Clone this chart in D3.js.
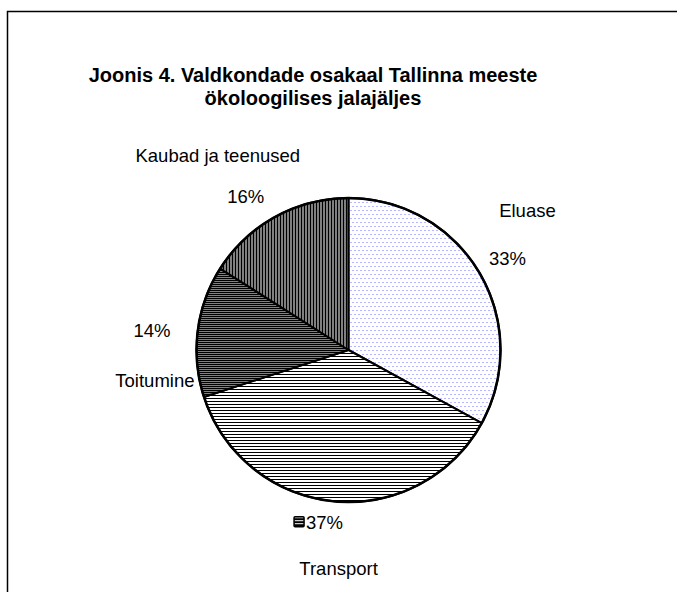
<!DOCTYPE html>
<html>
<head>
<meta charset="utf-8">
<script src="https://cdn.jsdelivr.net/npm/d3@7"></script>
<style>
  html, body { margin: 0; background: #fff; overflow: hidden; }
  svg { display: block; }
  text { font-family: "Liberation Sans", Arial, sans-serif; fill: #000; }
</style>
</head>
<body>
<script>
// data
var categories = ["Eluase", "Transport", "Toitumine", "Kaubad ja teenused"];
var shares = [33, 37, 14, 16];
var pctLabels = ["33%", "37%", "14%", "16%"];
var titleLines = ["Joonis 4. Valdkondade osakaal Tallinna meeste", "ökoloogilises jalajäljes"];

var w = 677, h = 592;
var cx = 348.5, cy = 350, r = 152;

var svg = d3.select("body").append("svg")
    .attr("width", w)
    .attr("height", h);

// fill patterns, one per slice
var defs = svg.append("defs");

var p0 = defs.append("pattern").attr("id", "pat0")
    .attr("patternUnits", "userSpaceOnUse").attr("width", 4).attr("height", 8);
p0.append("rect").attr("width", 4).attr("height", 8).attr("fill", "#fff");
p0.append("rect").attr("x", 0).attr("y", 0).attr("width", 1).attr("height", 1).attr("fill", "#6f6fff");
p0.append("rect").attr("x", 2).attr("y", 4).attr("width", 1).attr("height", 1).attr("fill", "#6f6fff");

var p1 = defs.append("pattern").attr("id", "pat1")
    .attr("patternUnits", "userSpaceOnUse").attr("width", 4).attr("height", 3);
p1.append("rect").attr("width", 4).attr("height", 3).attr("fill", "#fff");
p1.append("rect").attr("y", 0).attr("width", 4).attr("height", 1).attr("fill", "#000");

var p2 = defs.append("pattern").attr("id", "pat2")
    .attr("patternUnits", "userSpaceOnUse").attr("width", 2).attr("height", 2);
p2.append("rect").attr("width", 2).attr("height", 2).attr("fill", "#000");
p2.append("rect").attr("x", 1).attr("y", 1).attr("width", 1).attr("height", 1).attr("fill", "#fff");

var p3 = defs.append("pattern").attr("id", "pat3")
    .attr("patternUnits", "userSpaceOnUse").attr("width", 3).attr("height", 4);
p3.append("rect").attr("width", 3).attr("height", 4).attr("fill", "#fff");
p3.append("rect").attr("x", 0).attr("width", 2).attr("height", 4).attr("fill", "#000");

// legend key pattern (small horizontal bars)
var pk = defs.append("pattern").attr("id", "patKey")
    .attr("patternUnits", "userSpaceOnUse").attr("width", 4).attr("height", 3);
pk.append("rect").attr("width", 4).attr("height", 3).attr("fill", "#000");
pk.append("rect").attr("y", 1).attr("width", 4).attr("height", 1).attr("fill", "#fff");

// chart area border: only top and left edges fall inside the view
svg.append("path")
    .attr("d", "M7.5," + h + "V11.5H" + w)
    .attr("fill", "none")
    .attr("stroke", "#000")
    .attr("stroke-width", 1.5);

// title
svg.append("text")
    .attr("x", 313).attr("y", 82)
    .attr("text-anchor", "middle")
    .style("font-weight", "bold")
    .style("font-size", "20px")
    .selectAll("tspan")
    .data(titleLines)
    .enter()
    .append("tspan")
    .attr("x", 313)
    .attr("dy", function (d, i) { return i === 0 ? 0 : 23; })
    .text(function (d) { return d; });

// pie
var pie = d3.pie().sort(null).value(function (d) { return d; });
var arcs = pie(shares);
var arc = d3.arc().innerRadius(0).outerRadius(r);

var g = svg.append("g").attr("transform", "translate(" + cx + "," + cy + ")");

g.selectAll("path.slice")
    .data(arcs)
    .enter()
    .append("path")
    .attr("class", "slice")
    .attr("d", arc)
    .attr("fill", function (d, i) { return "url(#pat" + i + ")"; })
    .attr("stroke", "#000")
    .attr("stroke-width", 2)
    .attr("stroke-linejoin", "round");

g.append("circle")
    .attr("r", r)
    .attr("fill", "none")
    .attr("stroke", "#000")
    .attr("stroke-width", 2.5);

// labels: percent near the slice's mid angle, name shifted from it
var labelR = 180;
var pctShift = [[4, 0], [-7, -7], [-18, 3], [-16, 4]];
var nameShift = [[20, -48], [14, 46], [3, 50], [-28, -41]];

function labelPoint(d, i) {
    var a = (d.startAngle + d.endAngle) / 2;
    return [labelR * Math.sin(a) + pctShift[i][0], -labelR * Math.cos(a) + pctShift[i][1]];
}

var lab = g.selectAll("g.lab")
    .data(arcs)
    .enter()
    .append("g")
    .attr("class", "lab")
    .attr("transform", function (d, i) {
        var p = labelPoint(d, i);
        return "translate(" + p[0] + "," + p[1] + ")";
    });

lab.append("text")
    .attr("text-anchor", "middle")
    .attr("dy", "0.35em")
    .style("font-size", "18.5px")
    .text(function (d, i) { return pctLabels[i]; });

lab.append("text")
    .attr("text-anchor", "middle")
    .attr("dy", "0.35em")
    .attr("x", function (d, i) { return nameShift[i][0]; })
    .attr("y", function (d, i) { return nameShift[i][1]; })
    .style("font-size", "18.5px")
    .text(function (d, i) { return categories[i]; });

// legend key beside the Transport percent
lab.filter(function (d, i) { return i === 1; })
    .append("rect")
    .attr("x", -30.5).attr("y", -5.5)
    .attr("width", 10).attr("height", 10)
    .attr("fill", "url(#patKey)")
    .attr("stroke", "#000")
    .attr("stroke-width", 1.5)
    .attr("rx", 1);
</script>
</body>
</html>
